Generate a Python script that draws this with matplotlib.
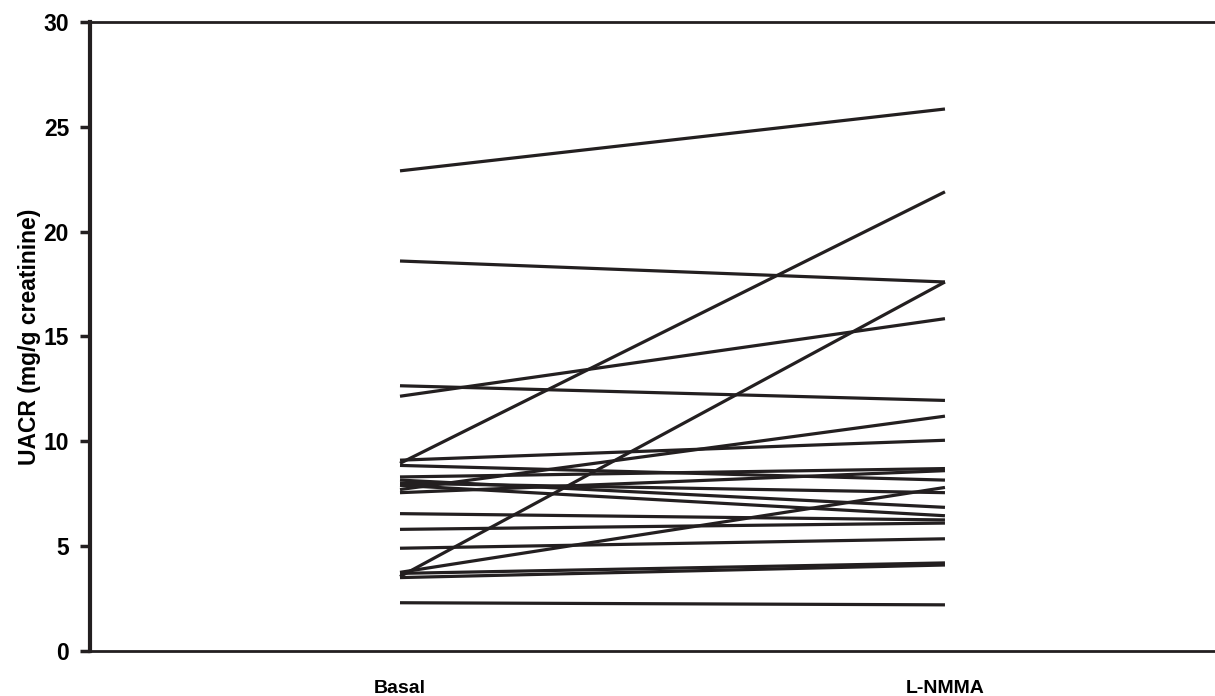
import matplotlib
matplotlib.use("Agg")
import matplotlib.pyplot as plt

# paired UACR values per subject
basal = [22.9, 18.6, 12.65, 12.15, 9.1, 8.95, 8.85, 8.3, 8.15, 8.0, 7.9,
         7.7, 7.55, 6.55, 5.8, 4.9, 3.75, 3.7, 3.55, 3.5, 2.3]
lnmma = [25.85, 17.6, 11.95, 15.85, 10.05, 21.9, 8.15, 8.7, 6.85, 7.55, 6.45,
         11.2, 8.6, 6.25, 6.1, 5.35, 7.8, 4.2, 17.6, 4.1, 2.2]
conditions = ["Basal", "L-NMMA"]
yticks = [0, 5, 10, 15, 20, 25, 30]

plt.rcParams['font.family'] = ['Liberation Sans', 'DejaVu Sans']
plt.rcParams['font.weight'] = 'bold'

fig = plt.figure(figsize=(12.15, 6.96), dpi=100)
ax = fig.add_axes([0.074, 0.0647, 0.926, 0.9037])

col = '#231f20'
for b, l in zip(basal, lnmma):
    ax.plot([1, 2], [b, l], color=col, lw=2.3, solid_capstyle='butt')

ax.set_xlim(0.431, 2.4955)
ax.set_ylim(0, 30)
ax.set_yticks(yticks)
ax.set_xticks([1, 2])
ax.set_xticklabels(conditions, fontsize=14, fontweight='bold')
ax.tick_params(axis='x', length=0, pad=21)
ax.tick_params(axis='y', length=7, width=2.5, direction='out', pad=8,
               labelsize=16.5, color=col)
for t in ax.get_yticklabels():
    t.set_fontweight('bold')
ax.set_ylabel("UACR (mg/g creatinine)", fontsize=16.5, fontweight='bold', labelpad=2)

ax.spines['right'].set_visible(False)
ax.spines['left'].set_linewidth(3)
ax.spines['top'].set_linewidth(2)
ax.spines['bottom'].set_linewidth(2)
for s in ax.spines.values():
    s.set_color(col)

fig.savefig("out.png", dpi=100)
